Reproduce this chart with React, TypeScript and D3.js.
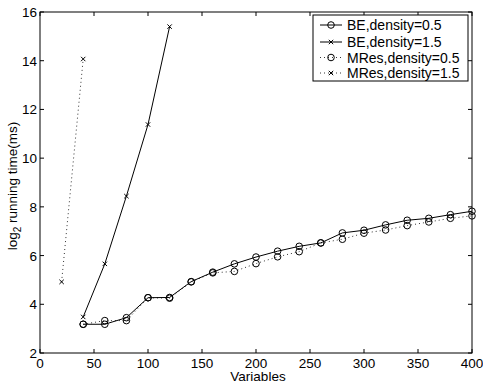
import React from "react";
import * as d3 from "d3";

const xVars = [40, 60, 80, 100, 120, 140, 160, 180, 200, 220, 240, 260, 280, 300, 320, 340, 360, 380, 400];
const beD05 = [3.18, 3.18, 3.45, 4.27, 4.28, 4.93, 5.32, 5.66, 5.94, 6.18, 6.38, 6.52, 6.93, 7.04, 7.26, 7.45, 7.53, 7.68, 7.82];
const mresD05 = [3.18, 3.33, 3.33, 4.27, 4.25, 4.92, 5.29, 5.35, 5.67, 5.95, 6.16, 6.52, 6.67, 6.92, 7.05, 7.23, 7.38, 7.53, 7.63];
const beD15X = [40, 60, 80, 100, 120];
const beD15 = [3.48, 5.66, 8.44, 11.38, 15.4];
const mresD15X = [20, 40];
const mresD15 = [4.92, 14.07];

const xTicks = [0, 50, 100, 150, 200, 250, 300, 350, 400];
const yTicks = [2, 4, 6, 8, 10, 12, 14, 16];
const legendLabels = ["BE,density=0.5", "BE,density=1.5", "MRes,density=0.5", "MRes,density=1.5"];

const W = 483, H = 381;
const L = 40, R = 472, T = 12, B = 353;
const FONT = "Liberation Sans, Arial, Helvetica, sans-serif";
const FS = 13.5;

export default function App() {
  const x = d3.scaleLinear().domain([0, 400]).range([L, R]);
  const y = d3.scaleLinear().domain([2, 16]).range([B, T]);
  const line = d3.line<[number, number]>().x(d => x(d[0])).y(d => y(d[1]));

  const series = [
    { xs: xVars, ys: beD05, dash: undefined as string | undefined, marker: "o" },
    { xs: beD15X, ys: beD15, dash: undefined, marker: "x" },
    { xs: xVars, ys: mresD05, dash: "1,3", marker: "o" },
    { xs: mresD15X, ys: mresD15, dash: "1,3", marker: "x" },
  ];

  const marker = (m: string, cx: number, cy: number, k: string) =>
    m === "o" ? (
      <circle key={k} cx={cx} cy={cy} r={3.3} fill="none" stroke="#000" strokeWidth={1} />
    ) : (
      <path key={k} d={`M${cx - 2.2},${cy - 2.2}L${cx + 2.2},${cy + 2.2}M${cx - 2.2},${cy + 2.2}L${cx + 2.2},${cy - 2.2}`} stroke="#000" strokeWidth={1} />
    );

  const lx0 = 313, ly0 = 15, lx1 = 468, ly1 = 81;
  const legY = [25, 42, 57.5, 73];

  return (
    <svg width={W} height={H} style={{ position: "absolute", left: 0, top: 0, background: "#fff" }} fontFamily={FONT}>
      <rect x={0} y={0} width={W} height={H} fill="#fff" />
      {series.map((s, i) => (
        <g key={i}>
          <path
            d={line(s.xs.map((v, j) => [v, s.ys[j]] as [number, number])) || ""}
            fill="none"
            stroke="#000"
            strokeWidth={s.dash ? 0.8 : 1}
            strokeDasharray={s.dash}
          />
          {s.xs.map((v, j) => marker(s.marker, x(v), y(s.ys[j]), `${i}-${j}`))}
        </g>
      ))}
      <rect x={L} y={T} width={R - L} height={B - T} fill="none" stroke="#000" strokeWidth={1} />
      {xTicks.map(t => (
        <g key={`xt${t}`}>
          <line x1={x(t)} x2={x(t)} y1={B} y2={B - 4} stroke="#000" />
          <line x1={x(t)} x2={x(t)} y1={T} y2={T + 4} stroke="#000" />
          <text x={x(t)} y={B + 15} fontSize={FS} textAnchor="middle">{t}</text>
        </g>
      ))}
      {yTicks.map(t => (
        <g key={`yt${t}`}>
          <line x1={L} x2={L + 4} y1={y(t)} y2={y(t)} stroke="#000" />
          <line x1={R} x2={R - 4} y1={y(t)} y2={y(t)} stroke="#000" />
          <text x={L - 3} y={y(t) + 5} fontSize={FS} textAnchor="end">{t}</text>
        </g>
      ))}
      <text x={258} y={380.5} fontSize={FS} textAnchor="middle">Variables</text>
      <text transform={`translate(17,186) rotate(-90)`} fontSize={FS} textAnchor="middle">
        log<tspan fontSize={10} dy={4}>2</tspan><tspan dy={-4}> running time(ms)</tspan>
      </text>
      <rect x={lx0} y={ly0} width={lx1 - lx0} height={ly1 - ly0} fill="#fff" stroke="#000" strokeWidth={1} />
      {legendLabels.map((lab, i) => {
        const s = series[i];
        const yy = legY[i];
        return (
          <g key={lab}>
            <line x1={320} x2={342} y1={yy} y2={yy} stroke="#000" strokeWidth={s.dash ? 0.8 : 1} strokeDasharray={s.dash} />
            {marker(s.marker, 331, yy, `leg${i}`)}
            <text x={347} y={yy + 5} fontSize={14}>{lab}</text>
          </g>
        );
      })}
    </svg>
  );
}
